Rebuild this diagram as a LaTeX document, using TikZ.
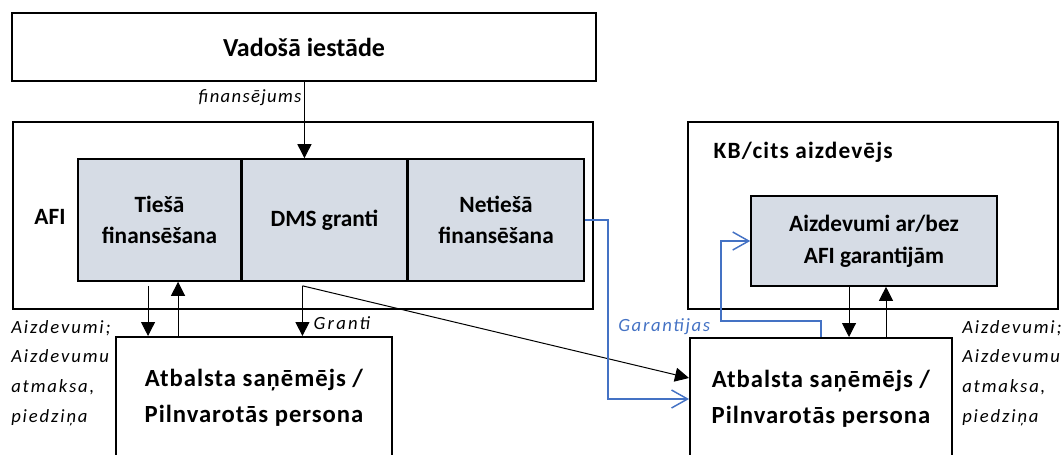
\documentclass[tikz,border=0pt]{standalone}
\usepackage{fontspec}
\setmainfont{Carlito}
\usetikzlibrary{arrows.meta,positioning}
\definecolor{boxgray}{RGB}{214,220,229}
\definecolor{linkblue}{RGB}{68,114,196}
\tikzstyle{outer}=[rectangle,draw,line width=1.5pt,inner sep=0pt]
\tikzstyle{inner}=[rectangle,draw,line width=1.2pt,fill=boxgray,align=center,inner sep=0pt,font=\bfseries\fontsize{17.5}{23.6}\selectfont]
\tikzstyle{who}=[rectangle,draw,line width=1.5pt,align=center,inner sep=0pt,font=\bfseries\fontsize{18.5}{27}\selectfont\addfontfeature{LetterSpace=4}]
\tikzstyle{lbl}=[inner sep=0pt,font=\itshape\fontsize{14}{22.3}\selectfont\addfontfeature{LetterSpace=9}]
\tikzstyle{note}=[inner sep=0pt,align=left,anchor=north west,font=\itshape\fontsize{14}{22.3}\selectfont\addfontfeature{LetterSpace=10}]
\tikzstyle{arr}=[-{Triangle[length=10.5pt,width=10.5pt]},line width=0.75pt]
\tikzstyle{guar}=[-{Straight Barb[length=12pt,width=13.5pt]},linkblue,line width=1.1pt]
\begin{document}
\begin{tikzpicture}[x=0.75pt,y=-0.75pt]
\useasboundingbox (0,0) rectangle (1062,454);
% top level
\node[outer,minimum width=438pt,minimum height=51pt,font=\bfseries\fontsize{19.5}{22}\selectfont] (top) at (304,47) {Vadošā iestāde};
% AFI and its instruments
\node[outer,minimum width=435pt,minimum height=140pt] (afi) at (303,215.5) {};
\node[font=\bfseries\fontsize{17.5}{20}\selectfont] (afilbl) at (50,217) {AFI};
\node[inner,minimum width=122pt,minimum height=91.5pt] (tiesa) at (159.5,220) {Tiešā\\finansēšana};
\node[inner,minimum width=123pt,minimum height=91.5pt,right=0pt of tiesa] (dms) {DMS granti};
\node[inner,minimum width=132pt,minimum height=91.5pt,right=0pt of dms] (netiesa) {Netiešā\\finansēšana};
% lender
\node[outer,minimum width=277.5pt,minimum height=140pt] (kb) at (873,215.5) {};
\node[anchor=west,font=\bfseries\fontsize{17.5}{20}\selectfont\addfontfeature{LetterSpace=5}] (kblbl) at (709,152) {KB/cits aizdevējs};
\node[inner,minimum width=184.5pt,minimum height=67.5pt,font=\bfseries\fontsize{17.5}{24}\selectfont] (loan) at (874,241) {Aizdevumi ar/bez\\AFI garantijām};
% recipients
\node[who,minimum width=207pt,minimum height=91.5pt] (rec1) at (254,398) {Atbalsta saņēmējs /\\Pilnvarotās persona};
\node[who,minimum width=196.5pt,minimum height=91.5pt] (rec2) at (821,399) {Atbalsta saņēmējs /\\Pilnvarotās persona};

% flows
\coordinate (fin) at ([xshift=-15pt]dms.north);
\draw[arr] (fin |- top.south) -- (fin);
\node[lbl,font=\itshape\fontsize{14}{20}\selectfont\addfontfeature{LetterSpace=7}] (finlbl) at (250,98) {finansējums};
\coordinate (t1) at ([xshift=-8.6pt,yshift=-3pt]tiesa.south);
\coordinate (t2) at ([xshift=13.9pt]tiesa.south);
\draw[arr] (t1) -- (t1 |- rec1.north);
\draw[arr] (t2 |- rec1.north) -- (t2);
\coordinate (g1) at ([xshift=-16.5pt,yshift=-3pt]dms.south);
\draw[arr] (g1) -- (g1 |- rec1.north) node[lbl,pos=0.75,right=8pt,font=\itshape\fontsize{14}{20}\selectfont\addfontfeature{LetterSpace=12}] (grlbl) {Granti};
\draw[arr] (g1) -- ([yshift=15.75pt]rec2.west);
\draw[guar] (netiesa.east) -- ++(17.5pt,0) |- (rec2.west);
\coordinate (l1) at ([xshift=-18.75pt]loan.south);
\coordinate (l2) at ([xshift=9pt]loan.south);
\draw[arr] (l1) -- (l1 |- rec2.north);
\draw[arr] (l2 |- rec2.north) -- (l2);
\coordinate (gk) at ([xshift=-21.75pt]loan.west);
\draw[guar] (rec2.north) -- ++(0,12pt) -| (gk) -- (loan.west);
\node[lbl,text=linkblue,anchor=base west] (garlbl) at (618,331) {Garantijas};
% side notes
\node[note] (note1) at (11,320) {Aizdevumi;\\Aizdevumu\\atmaksa,\\piedziņa};
\node[note] (note2) at (962,320) {Aizdevumi;\\Aizdevumu\\atmaksa,\\piedziņa};
\end{tikzpicture}
\end{document}
